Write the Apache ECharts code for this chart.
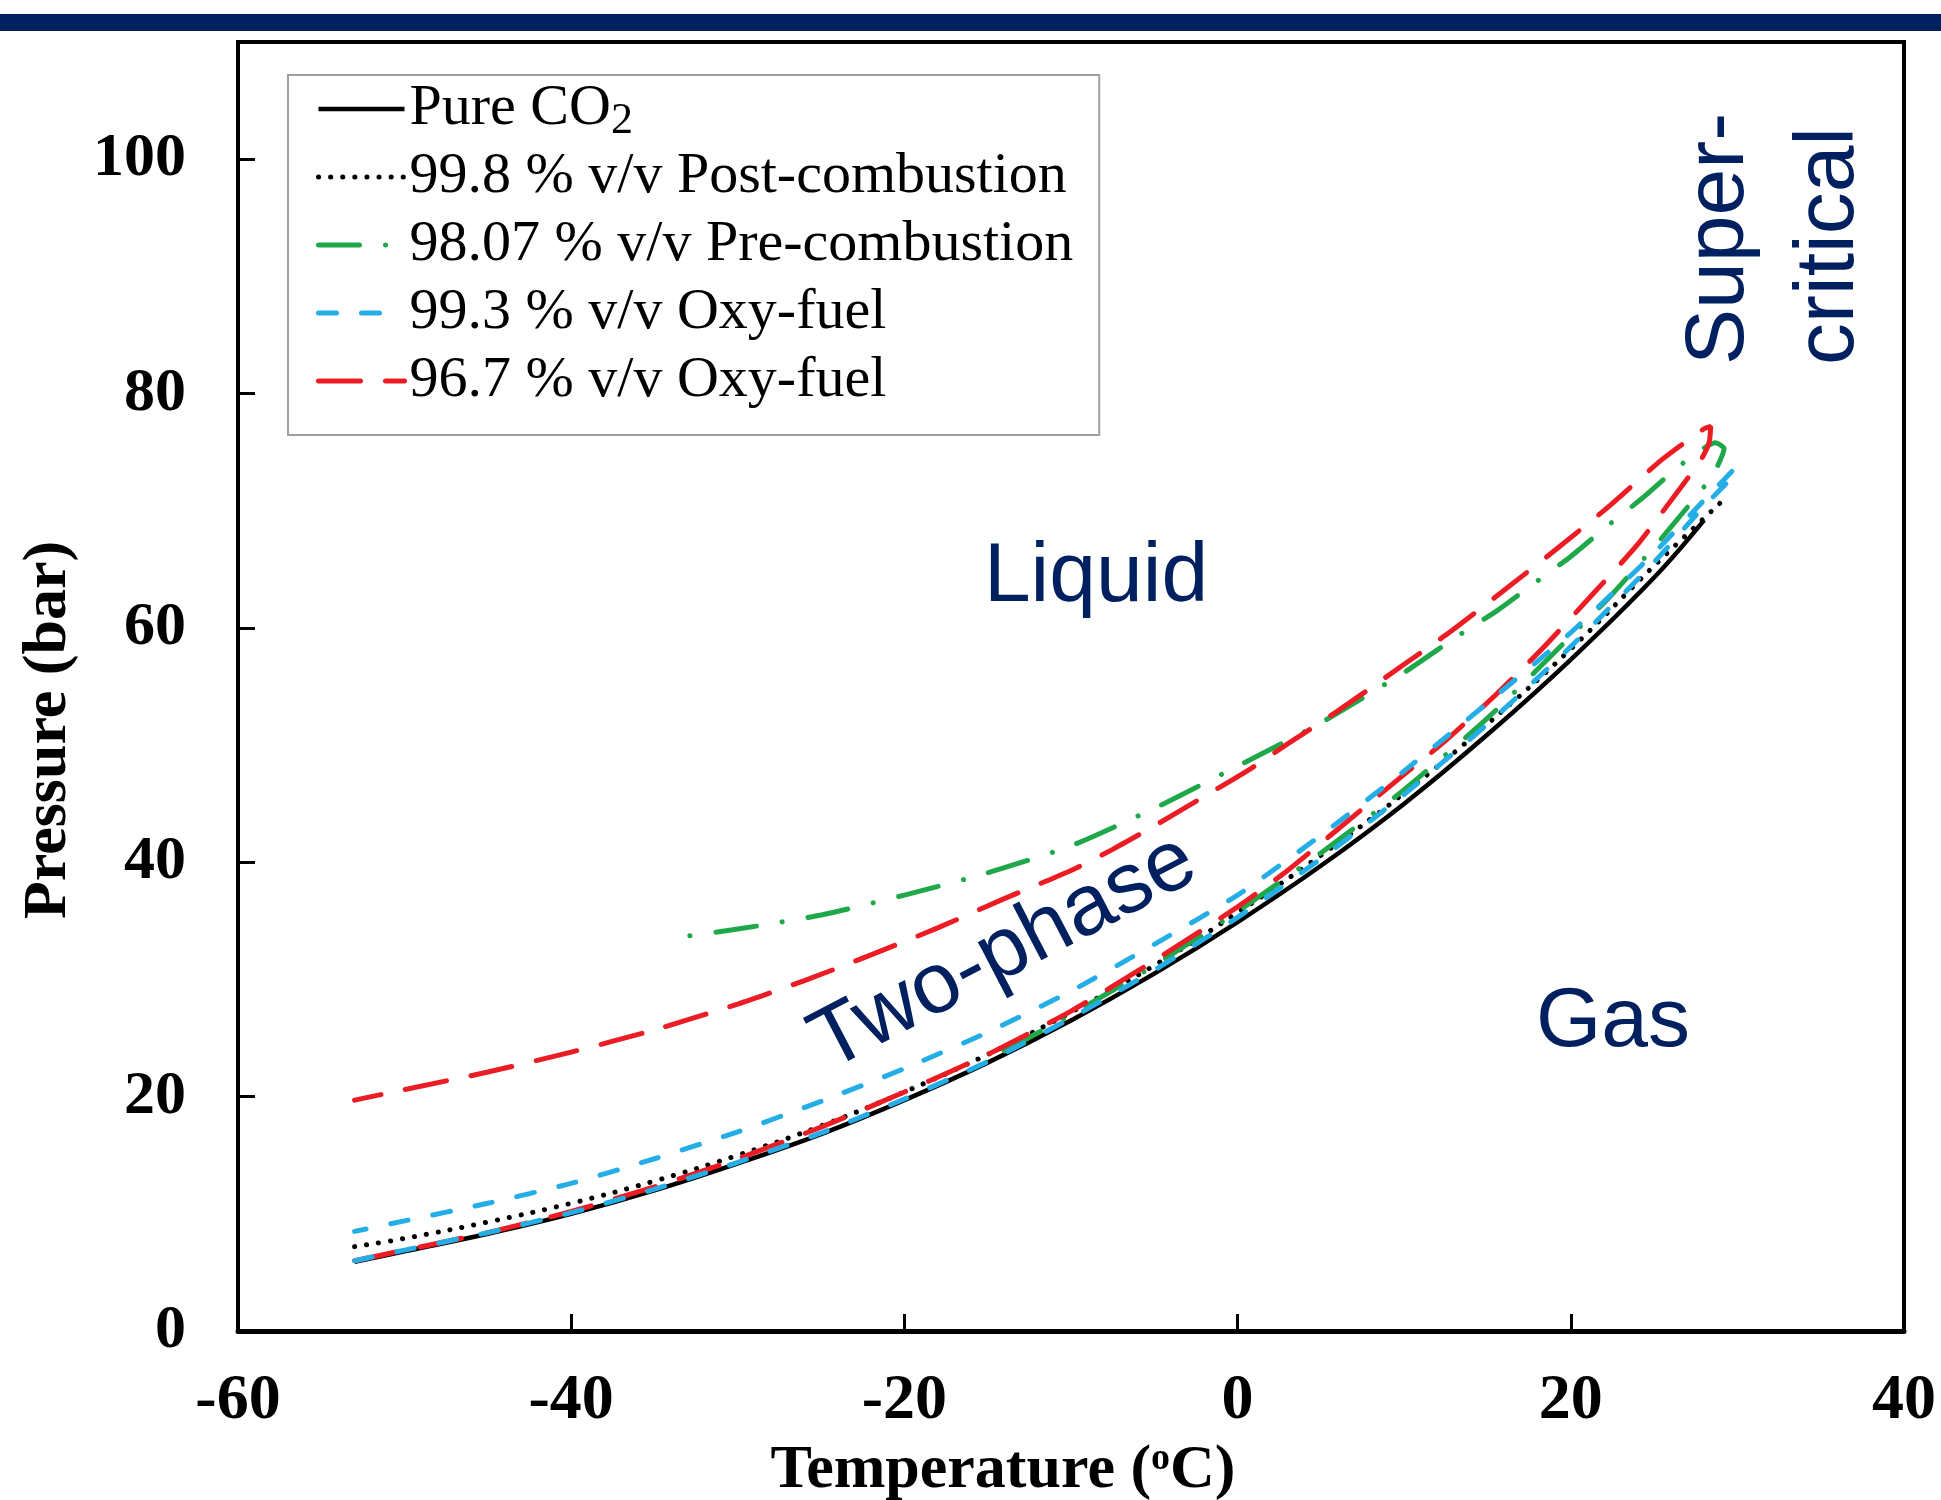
<!DOCTYPE html>
<html>
<head>
<meta charset="utf-8">
<script src="https://cdn.jsdelivr.net/npm/echarts@6/dist/echarts.min.js"></script>
<style>html,body{margin:0;padding:0;background:#fff}#c{width:1941px;height:1500px}</style>
</head>
<body>
<div id="c"></div>
<script>
// ---------- data ----------
const xTicks = [-60, -40, -20, 0, 20, 40];
const yTicks = [0, 20, 40, 60, 80, 100];
const seriesNames = ['Pure CO2', '99.8 % v/v Post-combustion', '98.07 % v/v Pre-combustion', '99.3 % v/v Oxy-fuel', '96.7 % v/v Oxy-fuel'];

// Pure CO2 saturation curve
const pureT = [-53, -50, -45, -40, -35, -30, -25, -20, -15, -10, -5, 0, 5, 10, 15, 20, 25, 28];
const pureP = [5.9, 6.8, 8.3, 10.0, 12.0, 14.3, 16.8, 19.7, 22.9, 26.5, 30.5, 34.9, 39.7, 45.0, 50.9, 57.3, 64.3, 69.2];

// 99.8 % post-combustion
const postT = [-53, -50, -45, -40, -35, -30, -25, -20, -15, -10, -5, 0, 5, 10, 15, 20, 25, 29];
const postP = [7.2, 7.9, 9.3, 10.9, 12.8, 15.0, 17.5, 20.4, 23.6, 27.2, 31.2, 35.7, 40.6, 45.9, 51.8, 58.2, 65.3, 70.7];

// 98.07 % pre-combustion (dew branch up, bubble branch down)
const preDewT = [-14, -10, -5, 0, 5, 10, 15, 20, 22.5, 25, 27, 28.5, 29.2];
const preDewP = [23.9, 27.0, 31.2, 35.8, 40.8, 46.2, 52.3, 59.3, 62.9, 66.9, 70.3, 73.0, 75.3];
const preBubT = [28.7, 26.5, 24.4, 22.2, 20, 17.8, 15.6, 13.2, 10, 5, 0, -5, -10, -15, -20, -25, -30, -33];
const preBubP = [75.8, 73.8, 71.2, 68.7, 66.1, 63.8, 61.5, 59.3, 56.2, 51.9, 48.2, 44.6, 41.4, 39.1, 37.2, 35.5, 34.3, 33.7];

// 99.3 % oxy-fuel
const oxyADewT = [-53, -50, -45, -40, -35, -30, -25, -20, -15, -10, -5, 0, 5, 10, 15, 20, 25, 28, 29.5];
const oxyADewP = [6.0, 6.9, 8.4, 10.1, 12.1, 14.4, 16.9, 19.8, 23.0, 26.7, 30.8, 35.3, 40.3, 45.8, 51.8, 58.4, 65.6, 70.4, 72.6];
const oxyABubT = [29.9, 28, 25, 20, 15, 10, 5, 0, -5, -10, -15, -20, -25, -30, -35, -40, -45, -50, -53];
const oxyABubP = [73.7, 70.9, 66.4, 59.6, 53.6, 47.8, 42.3, 37.2, 33.0, 29.0, 25.5, 22.4, 19.6, 17.0, 14.7, 12.6, 10.9, 9.4, 8.5];

// 96.7 % oxy-fuel
const oxyBDewT = [-53, -50, -45, -40, -35, -30, -25, -20, -15, -10, -5, 0, 3, 6, 10, 12.5, 15.5, 18.4, 21.2, 24, 26.5, 27.8, 28.3];
const oxyBDewP = [6.0, 6.9, 8.4, 10.2, 12.3, 14.7, 17.4, 20.4, 23.6, 27.3, 31.6, 36.2, 39.3, 42.8, 47.5, 50.4, 54.3, 58.4, 62.7, 67.1, 71.8, 74.3, 75.8];
const oxyBBubT = [28.4, 28.0, 25.5, 22.4, 19.2, 15.9, 12.7, 10, 6, 3, 0.8, -2.5, -5, -7.5, -10, -14, -18, -22, -26, -30, -35, -40, -45, -50, -53];
const oxyBBubP = [77.2, 77.0, 74.4, 70.5, 66.8, 63.1, 59.6, 56.9, 52.9, 50.1, 48.0, 45.2, 43.1, 41.1, 39.3, 36.9, 34.4, 32.1, 29.9, 27.9, 25.7, 23.8, 22.1, 20.6, 19.7];

// ---------- build ----------
function pairs(t, p) { return t.map((v, i) => [v, p[i]]); }
const SERIF = '"Liberation Serif", "Times New Roman", Times, serif';
const SANS = '"Liberation Sans", Arial, Helvetica, sans-serif';
const NAVY = '#002060';

function lineSeries(name, data, style, smooth, z) {
  return { name: name, type: 'line', data: data, symbol: 'none', smooth: smooth, z: z,
           lineStyle: style, emphasis: { disabled: true } };
}

const chart = echarts.init(document.getElementById('c'), null, { renderer: 'canvas' });
chart.setOption({
  animation: false,
  backgroundColor: '#fff',
  grid: { left: 238, right: 37, top: 42, bottom: 169, show: true, borderColor: '#000', borderWidth: 4, backgroundColor: 'transparent' },
  xAxis: {
    type: 'value', min: xTicks[0], max: xTicks[xTicks.length - 1], interval: 20,
    axisLine: { show: true, onZero: false, lineStyle: { color: '#000', width: 5 } },
    axisTick: { show: true, inside: true, length: 17, lineStyle: { color: '#000', width: 3 } },
    axisLabel: { margin: 38, fontFamily: SERIF, fontWeight: 'bold', fontSize: 64, color: '#000' },
    splitLine: { show: false }
  },
  yAxis: {
    type: 'value', min: yTicks[0], max: 110, interval: 20,
    axisLine: { show: true, onZero: false, lineStyle: { color: '#000', width: 4 } },
    axisTick: { show: true, inside: true, length: 17, lineStyle: { color: '#000', width: 3 } },
    axisLabel: { margin: 52, fontFamily: SERIF, fontWeight: 'bold', fontSize: 62, color: '#000', showMaxLabel: false,
                 formatter: v => (yTicks.indexOf(v) >= 0 ? String(v) : '') },
    splitLine: { show: false }
  },
  legend: {
    orient: 'vertical', left: 288, top: 75, padding: [0, 26, 20, 28], itemGap: 0,
    itemWidth: 86, itemHeight: 68, backgroundColor: '#fff', borderColor: '#a0a0a0', borderWidth: 2,
    selectedMode: false, itemStyle: { opacity: 0 },
    lineStyle: { width: 'inherit', type: 'inherit', cap: 'inherit', color: 'inherit' },
    textStyle: { fontFamily: SERIF, fontSize: 58, color: '#000', lineHeight: 68,
      rich: { sub: { fontFamily: SERIF, fontSize: 44, lineHeight: 30, verticalAlign: 'bottom', color: '#000' } } },
    formatter: n => (n === 'Pure CO2' ? 'Pure CO{sub|2}' : n),
    data: seriesNames
  },
  series: [
    lineSeries(seriesNames[0], pairs(pureT, pureP), { color: '#000', width: 4.5 }, 0.4, 2),
    lineSeries(seriesNames[1], pairs(postT, postP), { color: '#000', width: 5, type: [0.1, 12], cap: 'round' }, 0.4, 3),
    lineSeries(seriesNames[2], pairs(preDewT, preDewP).concat(pairs(preBubT, preBubP)),
               { color: '#1ea84a', width: 5, type: [41, 26, 0.1, 26], cap: 'round' }, 0.2, 4),
    lineSeries(seriesNames[4], pairs(oxyBDewT, oxyBDewP).concat(pairs(oxyBBubT, oxyBBubP)),
               { color: '#ec1c24', width: 5, type: [42, 25], cap: 'round' }, 0.2, 5),
    lineSeries(seriesNames[3], pairs(oxyADewT, oxyADewP).concat(pairs(oxyABubT, oxyABubP)),
               { color: '#25aee6', width: 5, type: [18, 25], cap: 'round' }, 0.2, 6)
  ],
  graphic: [
    { type: 'rect', shape: { x: 0, y: 14, width: 1941, height: 17 }, style: { fill: NAVY } },
    { type: 'text', x: 49, y: 730, rotation: Math.PI / 2,
      style: { text: 'Pressure (bar)', fontFamily: SERIF, fontWeight: 'bold', fontSize: 62, fill: '#000', align: 'center', verticalAlign: 'middle' } },
    { type: 'text', x: 1003, y: 1471,
      style: { text: 'Temperature ({sup|o}C)', fontFamily: SERIF, fontWeight: 'bold', fontSize: 62, fill: '#000', align: 'center', verticalAlign: 'middle',
               rich: { sup: { fontFamily: SERIF, fontWeight: 'bold', fontSize: 38, verticalAlign: 'top', lineHeight: 40, fill: '#000' } } } },
    { type: 'text', x: 1096, y: 578,
      style: { text: 'Liquid', fontFamily: SANS, fontSize: 84, fill: NAVY, align: 'center', verticalAlign: 'middle' } },
    { type: 'text', x: 1613, y: 1023,
      style: { text: 'Gas', fontFamily: SANS, fontSize: 84, fill: NAVY, align: 'center', verticalAlign: 'middle' } },
    { type: 'text', x: 1004, y: 953, rotation: 0.48,
      style: { text: 'Two-phase', fontFamily: SANS, fontSize: 86, fill: NAVY, align: 'center', verticalAlign: 'middle' } },
    { type: 'text', x: 1775, y: 365, rotation: Math.PI / 2,
      style: { text: 'Super-\ncritical', fontFamily: SANS, fontSize: 84, lineHeight: 110, fill: NAVY, align: 'left', verticalAlign: 'middle' } }
  ]
});
</script>
</body>
</html>
